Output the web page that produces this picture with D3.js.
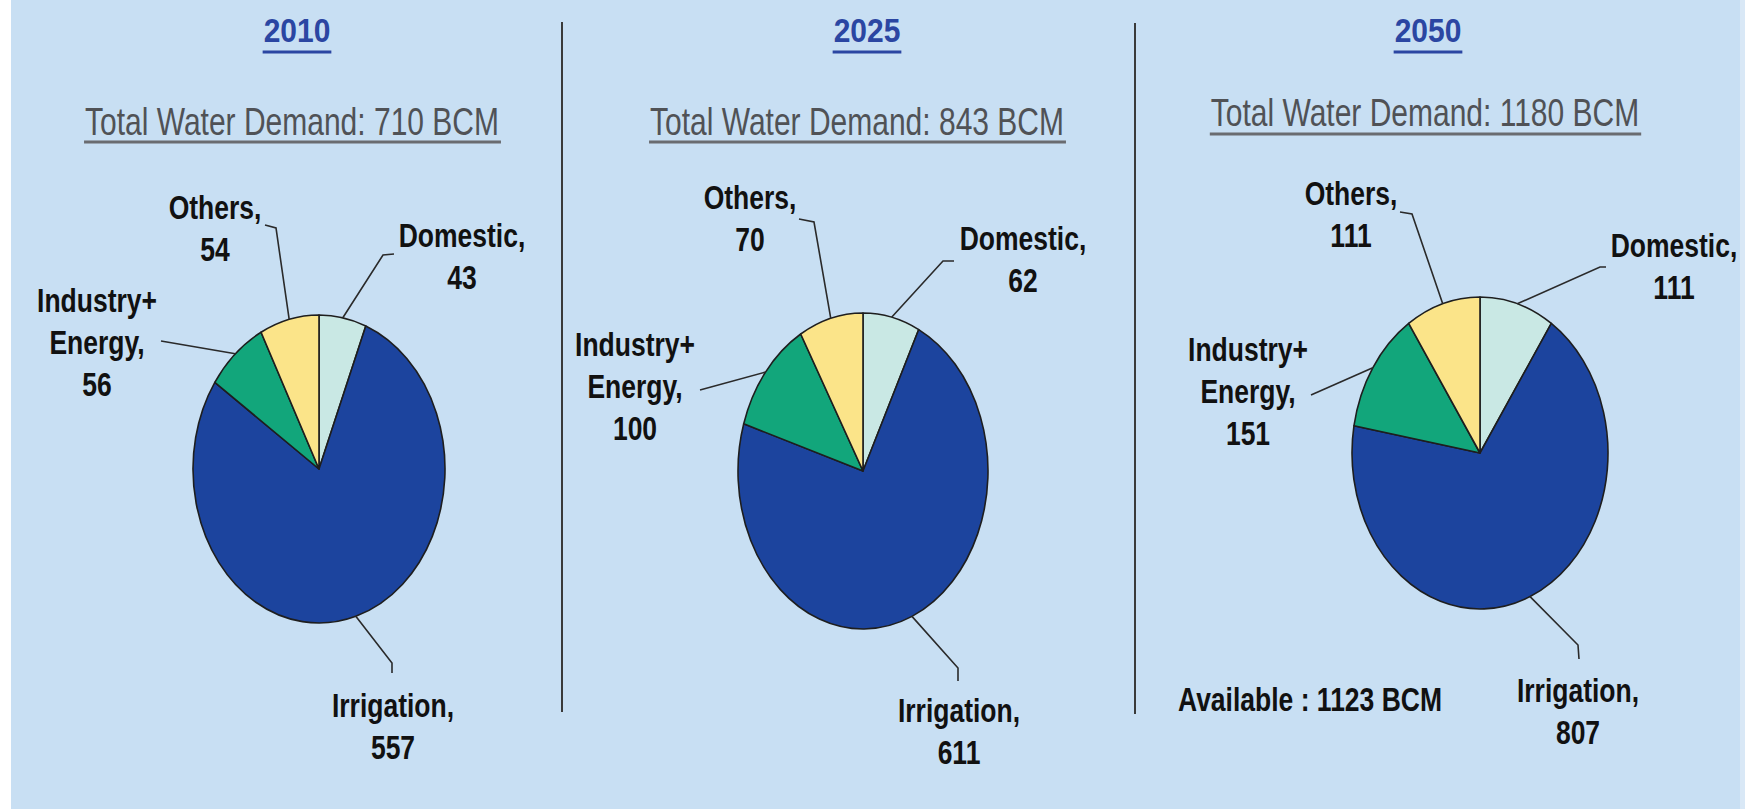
<!DOCTYPE html>
<html>
<head>
<meta charset="utf-8">
<script src="https://cdn.jsdelivr.net/npm/d3@7"></script>
<style>
  html, body { margin: 0; padding: 0; background: #ffffff; }
  svg { display: block; }
</style>
</head>
<body>
<svg id="chart" width="1745" height="809"></svg>
<script>
// ---------------- DATA ----------------
const years = ["2010", "2025", "2050"];
const categories = ["Domestic", "Irrigation", "Industry+ Energy", "Others"];
const values2010 = [43, 557, 56, 54];
const values2025 = [62, 611, 100, 70];
const values2050 = [111, 807, 151, 111];
const totals = [710, 843, 1180];
const availableText = "Available : 1123 BCM";

// ---------------- STYLE / LAYOUT ----------------
const colors = ["#c9e8e4", "#1c449e", "#12a67b", "#fbe489"];
const bg = "#c8dff3";
const W = 1745, H = 809;

const panels = [
  { cx: 319, cy: 469, rx: 126, ry: 154, titleX: 297, subX: 292, subY: 135, ulY: 142,
    labels: [
      { x: 462, y: 247, lead: [[383, 255], [394, 254]] },
      { x: 393, y: 717, lead: [[392, 663], [392, 673]] },
      { x: 97,  y: 312, lead: [[161, 341]] },
      { x: 215, y: 219, lead: [[276, 228], [265, 225]] }
    ] },
  { cx: 863, cy: 471, rx: 125, ry: 158, titleX: 867, subX: 857, subY: 135, ulY: 142,
    labels: [
      { x: 1023, y: 250, lead: [[943, 261], [954, 261]] },
      { x: 959,  y: 722, lead: [[958, 668], [958, 681]] },
      { x: 635,  y: 356, lead: [[700, 390]] },
      { x: 750,  y: 209, lead: [[814, 222], [799, 219]] }
    ] },
  { cx: 1480, cy: 453, rx: 128, ry: 156, titleX: 1428, subX: 1425, subY: 126, ulY: 134,
    labels: [
      { x: 1674, y: 257, lead: [[1600, 267], [1606, 267]] },
      { x: 1578, y: 702, lead: [[1578, 645], [1579, 659]] },
      { x: 1248, y: 361, lead: [[1311, 395]] },
      { x: 1351, y: 205, lead: [[1412, 214], [1400, 212]] }
    ] }
];
const seriesValues = [values2010, values2025, values2050];

const svg = d3.select("#chart");

// background
svg.append("rect").attr("x", 0).attr("y", 0).attr("width", W).attr("height", H).attr("fill", "#ffffff");
svg.append("rect").attr("x", 11).attr("y", 0).attr("width", W - 16).attr("height", H).attr("fill", bg);
svg.append("rect").attr("x", W - 5).attr("y", 0).attr("width", 5).attr("height", H).attr("fill", "#d9e8f6");

// dividers
[[562, 22, 712], [1135, 23, 714]].forEach(d => {
  svg.append("line").attr("x1", d[0]).attr("x2", d[0]).attr("y1", d[1]).attr("y2", d[2])
    .attr("stroke", "#3a3a3a").attr("stroke-width", 2);
});

function stretchedText(g, x, y, str, opts) {
  const t = g.append("text")
    .attr("transform", `translate(${x},${y}) scale(1,${opts.k})`)
    .attr("text-anchor", "middle")
    .attr("font-family", "'Liberation Sans', Arial, Helvetica, sans-serif")
    .attr("font-size", opts.size)
    .attr("font-weight", opts.weight || "normal")
    .attr("fill", opts.fill || "#000")
    .text(str);
  return t;
}

const pie = d3.pie().sort(null).value(d => d);

panels.forEach((p, i) => {
  const g = svg.append("g");
  const vals = seriesValues[i];

  // title (year)
  const tt = stretchedText(g, p.titleX, 42, years[i], { size: 30, weight: "bold", fill: "#2b46a2", k: 1.1 });
  const tw = tt.node().getComputedTextLength();
  g.append("line").attr("x1", p.titleX - tw / 2 - 1).attr("x2", p.titleX + tw / 2 + 1)
    .attr("y1", 52).attr("y2", 52).attr("stroke", "#2b46a2").attr("stroke-width", 3);

  // subtitle
  const st = stretchedText(g, p.subX, p.subY, `Total Water Demand: ${totals[i]} BCM`, { size: 30, fill: "#505256", k: 1.3 });
  const sw = st.node().getComputedTextLength();
  g.append("line").attr("x1", p.subX - sw / 2 - 1).attr("x2", p.subX + sw / 2 + 2)
    .attr("y1", p.ulY).attr("y2", p.ulY).attr("stroke", "#6a6c70").attr("stroke-width", 3);

  // pie (stretched vertically to an ellipse)
  const arcs = pie(vals);
  const arc = d3.arc().innerRadius(0).outerRadius(p.rx);
  const pg = g.append("g").attr("transform", `translate(${p.cx},${p.cy}) scale(1,${p.ry / p.rx})`);
  pg.selectAll("path").data(arcs).join("path")
    .attr("d", arc)
    .attr("fill", (d, j) => colors[j])
    .attr("stroke", "#1e1e1e")
    .attr("stroke-width", 1.6)
    .attr("stroke-linejoin", "round")
    .attr("vector-effect", "non-scaling-stroke");

  // leader lines and labels
  arcs.forEach((a, j) => {
    const lab = p.labels[j];
    const mid = (a.startAngle + a.endAngle) / 2;
    const sx = p.cx + p.rx * Math.sin(mid);
    const sy = p.cy - p.ry * Math.cos(mid);
    const pts = [[sx, sy]].concat(lab.lead);
    g.append("path").attr("d", d3.line()(pts)).attr("fill", "none")
      .attr("stroke", "#2a2a2a").attr("stroke-width", 1.6);

    const parts = categories[j].split(" ");
    const lines = parts.map((s, k) => k === parts.length - 1 ? s + "," : s).concat([String(vals[j])]);
    const lh = 42;
    lines.forEach((s, k) => {
      stretchedText(g, lab.x, lab.y + k * lh, s, { size: 26.5, weight: "bold", fill: "#111", k: 1.22 });
    });
  });
});

// available note
stretchedText(svg, 1310, 711, availableText, { size: 26.5, weight: "bold", fill: "#111", k: 1.22 });
</script>
</body>
</html>
